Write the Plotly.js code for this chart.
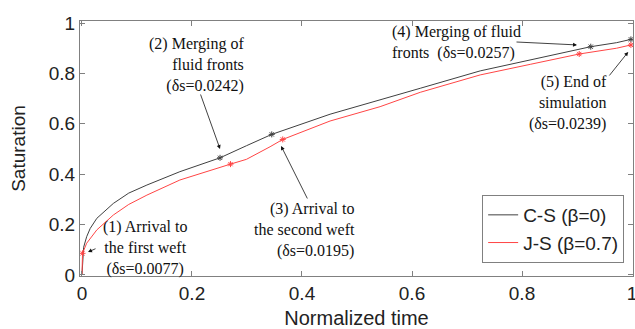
<!DOCTYPE html>
<html>
<head>
<meta charset="utf-8">
<script src="https://cdn.plot.ly/plotly-3.0.1.min.js"></script>
<style>html,body{margin:0;padding:0;background:#fff}#chart{width:635px;height:329px}</style>
</head>
<body>
<div id="chart"></div>
<script>
// C-S (beta=0) curve
const csTime = [0, 0.001, 0.003, 0.0085, 0.015, 0.027, 0.057, 0.085, 0.118, 0.178, 0.251, 0.299, 0.345, 0.451, 0.542, 0.615, 0.724, 0.815, 0.925, 0.972, 0.998];
const csSat  = [0, 0.06, 0.11, 0.152, 0.185, 0.225, 0.284, 0.325, 0.357, 0.410, 0.465, 0.513, 0.558, 0.638, 0.694, 0.741, 0.810, 0.853, 0.906, 0.922, 0.935];
// J-S (beta=0.7) curve
const jsTime = [0, 0.001, 0.0085, 0.027, 0.057, 0.085, 0.118, 0.178, 0.270, 0.299, 0.342, 0.365, 0.451, 0.542, 0.615, 0.724, 0.815, 0.904, 0.972, 0.998];
const jsSat  = [0, 0.086, 0.126, 0.179, 0.238, 0.280, 0.317, 0.377, 0.440, 0.459, 0.509, 0.538, 0.611, 0.668, 0.725, 0.794, 0.836, 0.877, 0.900, 0.913];
// event markers
const csMarkTime = [0.251, 0.345, 0.925, 0.998];
const csMarkSat  = [0.465, 0.558, 0.906, 0.935];
const jsMarkTime = [0.001, 0.270, 0.365, 0.904, 0.998];
const jsMarkSat  = [0.086, 0.440, 0.538, 0.877, 0.913];
const legendNames = ['C-S (β=0)', 'J-S (β=0.7)'];
const xTicks = [0, 0.2, 0.4, 0.6, 0.8, 1];
const yTicks = [0, 0.2, 0.4, 0.6, 0.8, 1];

const black = '#404040', red = '#ff4545';
const traces = [
  {x: csTime, y: csSat, mode: 'lines', name: legendNames[0], line: {color: black, width: 1}},
  {x: jsTime, y: jsSat, mode: 'lines', name: legendNames[1], line: {color: red, width: 1}},
  {x: csMarkTime, y: csMarkSat, mode: 'markers', showlegend: false, marker: {symbol: 'asterisk-open', size: 5, color: black, line: {color: black, width: 1}}},
  {x: jsMarkTime, y: jsMarkSat, mode: 'markers', showlegend: false, marker: {symbol: 'asterisk-open', size: 5, color: red, line: {color: red, width: 1}}}
];

const serif = {family: '"Liberation Serif", "Times New Roman", serif', size: 16, color: '#111'};
function txt(x, y, text, xanchor, align) {
  return {x: x, y: y, xref: 'x', yref: 'y', text: text, showarrow: false, xanchor: xanchor, yanchor: 'middle', align: align, font: serif};
}
function arr(x, y, ax, ay) {
  return {x: x, y: y, xref: 'x', yref: 'y', text: '', showarrow: true, ax: ax, ay: ay, arrowhead: 2, arrowsize: 1, arrowwidth: 0.8, arrowcolor: '#111'};
}
const annotations = [
  txt(0.1145, 0.107, '(1) Arrival to<br>the first weft<br>(δs=0.0077)', 'center', 'center'),
  arr(0.011, 0.091, 9, -4),
  txt(0.298, 0.833, '(2) Merging of<br>fluid fronts<br>(δs=0.0242)', 'right', 'right'),
  arr(0.251, 0.50, -20, -56),
  txt(0.50, 0.179, '(3) Arrival to<br>the second weft<br>(δs=0.0195)', 'right', 'right'),
  arr(0.362, 0.512, 27, 54),
  txt(0.56, 0.923, '(4) Merging of fluid<br>fronts  (δs=0.0257)', 'left', 'left'),
  arr(0.90, 0.913, -62, -3),
  txt(0.958, 0.683, '(5) End of<br>simulation<br>(δs=0.0239)', 'right', 'right'),
  arr(0.993, 0.885, -20, 25)
];

const axisCommon = {
  showgrid: false, zeroline: false, showline: true, linecolor: '#808080', linewidth: 1,
  mirror: 'ticks', ticks: 'inside', ticklen: 5, tickcolor: '#808080', ticklabeloverflow: 'allow',
  tickfont: {family: '"Liberation Sans", Arial, sans-serif', size: 19, color: '#222'}
};
const layout = {
  width: 635, height: 329,
  margin: {l: 80, r: 2, t: 21, b: 53},
  paper_bgcolor: '#fff', plot_bgcolor: '#fff',
  showlegend: true,
  legend: {x: 0.984, y: 0.051, xanchor: 'right', yanchor: 'bottom', bgcolor: '#fff', bordercolor: '#808080', borderwidth: 1,
           font: {family: '"Liberation Sans", Arial, sans-serif', size: 19, color: '#222'}, tracegroupgap: 0},
  xaxis: Object.assign({}, axisCommon, {range: [-0.0036, 1.0018], tickvals: xTicks, ticktext: xTicks.map(String),
          title: {text: 'Normalized time', font: {family: '"Liberation Sans", Arial, sans-serif', size: 20, color: '#222'}, standoff: 17}}),
  yaxis: Object.assign({}, axisCommon, {range: [-0.004, 1.008], tickvals: yTicks, ticktext: yTicks.map(String),
          title: {text: 'Saturation', font: {family: '"Liberation Sans", Arial, sans-serif', size: 19, color: '#222'}, standoff: 18}}),
  annotations: annotations
};
Plotly.newPlot('chart', traces, layout, {displayModeBar: false, staticPlot: true});
</script>
</body>
</html>
